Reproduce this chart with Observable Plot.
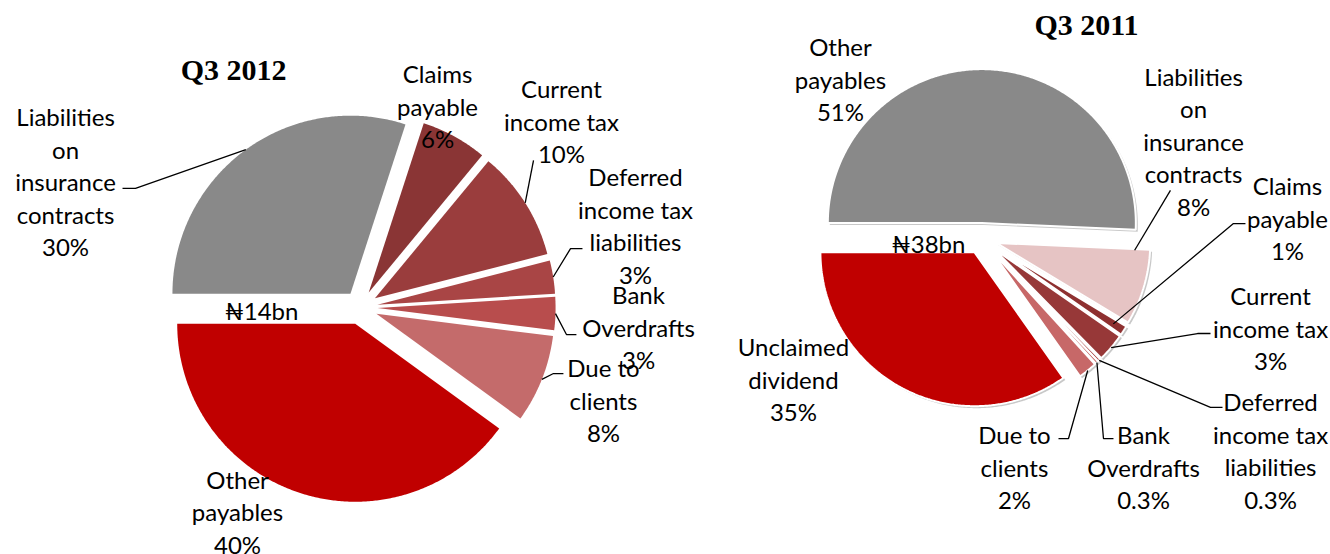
<!DOCTYPE html>
<html><head><meta charset="utf-8">
<script src="https://cdn.jsdelivr.net/npm/d3@7"></script>
<script src="https://cdn.jsdelivr.net/npm/@observablehq/plot@0.6"></script>
<style>
html,body{margin:0;padding:0;background:#fff;}
#wrap{position:relative;width:1330px;height:554px;overflow:hidden;}
#wrap > div{position:absolute;top:0;}
#left{left:0;} #right{left:665px;}
</style></head><body><div id="wrap"><div id="left"></div><div id="right"></div></div>
<script>
// ---------- DATA ----------
const title2012 = "Q3 2012";
const total2012 = "₦14bn";
const names2012 = ["Liabilities\non\ninsurance\ncontracts", "Claims\npayable", "Current\nincome tax", "Deferred\nincome tax\nliabilities", "Bank\nOverdrafts", "Due to\nclients", "Other\npayables"];
const values2012 = [30, 6, 10, 3, 3, 8, 40];
const colors2012 = ["#898989", "#8A3535", "#9A3D3D", "#A94545", "#B84D4D", "#C46B6B", "#C00000"];

const title2011 = "Q3 2011";
const total2011 = "₦38bn";
const names2011 = ["Other\npayables", "Liabilities\non\ninsurance\ncontracts", "Claims\npayable", "Current\nincome tax", "Deferred\nincome tax\nliabilities", "Bank\nOverdrafts", "Due to\nclients", "Unclaimed\ndividend"];
const values2011 = [51, 8, 1, 3, 0.3, 0.3, 2, 35];
const colors2011 = ["#898989", "#E6C4C4", "#8E3030", "#973838", "#A94444", "#B94B4B", "#C76868", "#C00000"];

// ---------- LAYOUT (radius units, relative to pie centre) ----------
const layout2012 = {
  width: 665, height: 554, cx: 360, cy: 307, r: 178, explode: 0.096, shadow: false,
  title: [-0.713, 1.331], total: [-0.556, -0.028],
  labels: [[-1.657, 0.711], [0.433, 1.135], [1.129, 1.051], [1.545, 0.466], [1.562, -0.107], [1.365, -0.517], [-0.691, -1.142]],
  leaders: [
    {i: 0, pts: [[-1.337, 0.669], [-1.264, 0.669]], rho: 1},
    {i: 2, pts: [[0.972, 0.826]], rho: 1},
    {i: 3, pts: [[1.247, 0.331], [1.180, 0.331]], rho: 1},
    {i: 4, pts: [[1.213, -0.152], [1.157, -0.152]], rho: 1},
    {i: 5, pts: [[1.140, -0.371], [1.084, -0.371]], rho: 1}
  ]
};
const layout2011 = {
  width: 665, height: 554, cx: 316, cy: 238, r: 154, explode: 0.1, shadow: true,
  title: [0.682, 1.383], total: [-0.344, -0.045],
  labels: [[-0.916, 1.039], [1.377, 0.636], [1.987, 0.136], [1.877, -0.578], [1.877, -1.370], [1.052, -1.481], [0.214, -1.481], [-1.221, -0.909]],
  leaders: [
    {i: 1, pts: [[1.227, 0.312]], rho: 0.9, angle: 93},
    {i: 2, pts: [[1.714, 0.097], [1.636, 0.097]], rho: 0.92},
    {i: 3, pts: [[1.487, -0.617], [1.403, -0.617]], rho: 1},
    {i: 4, pts: [[1.565, -1.097], [1.487, -1.097]], rho: 1},
    {i: 5, pts: [[0.857, -1.299], [0.792, -1.299]], rho: 1},
    {i: 6, pts: [[0.5, -1.299], [0.565, -1.299]], rho: 1}
  ]
};

const FONT = "Lato, 'Noto Sans', 'DejaVu Sans', sans-serif";
const SERIF = "'Liberation Serif', 'DejaVu Serif', serif";

function fmtPct(v) { return (v < 1 ? v.toFixed(1) : String(v)) + "%"; }

function drawPie(names, values, colors, title, total, L) {
  const arcs = d3.pie().sort(null).startAngle(-Math.PI / 2).endAngle(3 * Math.PI / 2)(values);
  const e = L.explode;
  const polys = [];
  const apex = [];
  arcs.forEach((a, i) => {
    const mid = (a.startAngle + a.endAngle) / 2;
    const ox = e * Math.sin(mid), oy = e * Math.cos(mid);
    apex.push([ox, oy, mid]);
    const n = Math.max(2, Math.ceil((a.endAngle - a.startAngle) / (Math.PI / 360)));
    polys.push({k: i, x: ox, y: oy, c: colors[i]});
    for (let j = 0; j <= n; j++) {
      const t = a.startAngle + (a.endAngle - a.startAngle) * j / n;
      polys.push({k: i, x: ox + Math.sin(t), y: oy + Math.cos(t), c: colors[i]});
    }
    polys.push({k: i, x: ox, y: oy, c: colors[i]});
  });

  const leaderPts = [];
  L.leaders.forEach((ld, j) => {
    ld.pts.forEach(p => leaderPts.push({k: j, x: p[0], y: p[1]}));
    const [ox, oy, mid] = apex[ld.i];
    const ang = ld.angle != null ? ld.angle * Math.PI / 180 : mid;
    leaderPts.push({k: j, x: ox + ld.rho * Math.sin(ang), y: oy + ld.rho * Math.cos(ang)});
  });

  const labels = names.map((n, i) => ({x: L.labels[i][0], y: L.labels[i][1], text: n + "\n" + fmtPct(values[i])}));

  const W = L.width, H = L.height;
  const x0 = -L.cx / L.r, x1 = (W - L.cx) / L.r;
  const y0 = -(H - L.cy) / L.r, y1 = L.cy / L.r;

  return Plot.plot({
    width: W, height: H, margin: 0,
    style: {fontFamily: FONT, background: "transparent", overflow: "visible"},
    x: {domain: [x0, x1], range: [0, W], axis: null},
    y: {domain: [y0, y1], range: [H, 0], axis: null},
    color: {type: "identity"},
    marks: [
      L.shadow ? Plot.line(polys, {x: "x", y: "y", z: "k", fill: "#9a9a9a", fillOpacity: 0.55, stroke: "none", dx: 2, dy: 2}) : null,
      Plot.line(polys, {x: "x", y: "y", z: "k", fill: "c", stroke: L.shadow ? "white" : "none", strokeWidth: L.shadow ? 2 : 0, strokeLinejoin: "miter"}),
      Plot.line(leaderPts, {x: "x", y: "y", z: "k", stroke: "black", strokeWidth: 1.3, strokeLinecap: "butt", strokeLinejoin: "miter"}),
      Plot.text(labels, {x: "x", y: "y", text: "text", fontSize: 24, lineHeight: 1.354, fill: "black", fontFamily: FONT}),
      Plot.text([total], {x: () => L.total[0], y: () => L.total[1], text: d => d, fontSize: 24, fill: "black", fontFamily: FONT}),
      Plot.text([title], {x: () => L.title[0], y: () => L.title[1], text: d => d, fontSize: 30, fontWeight: "bold", fill: "black", fontFamily: SERIF})
    ]
  });
}

document.getElementById("left").appendChild(drawPie(names2012, values2012, colors2012, title2012, total2012, layout2012));
document.getElementById("right").appendChild(drawPie(names2011, values2011, colors2011, title2011, total2011, layout2011));
</script>
</body></html>
